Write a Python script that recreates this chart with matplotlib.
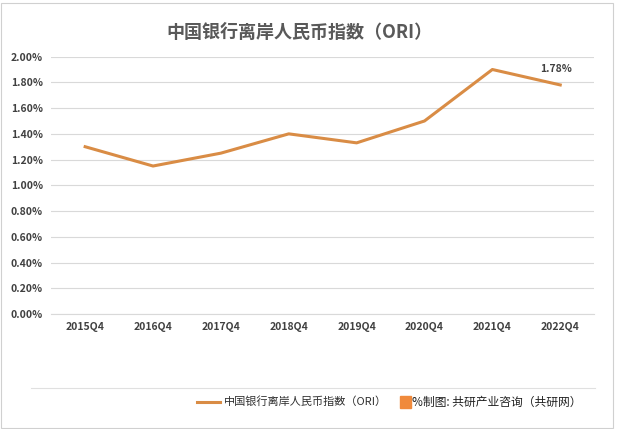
import matplotlib
matplotlib.use("Agg")
import matplotlib.pyplot as plt
from matplotlib import font_manager as fm
from matplotlib.ticker import FuncFormatter, MultipleLocator

cjk = [f.name for f in fm.fontManager.ttflist if "CJK" in f.name]
fam = (cjk[0] if cjk else "DejaVu Sans")
for pref in ["Noto Sans CJK SC", "Noto Sans CJK JP"]:
    if pref in cjk:
        fam = pref
        break
plt.rcParams["font.family"] = [fam, "DejaVu Sans"]

categories = ["2015Q4","2016Q4","2017Q4","2018Q4","2019Q4","2020Q4","2021Q4","2022Q4"]
values = [1.30, 1.15, 1.25, 1.40, 1.33, 1.50, 1.90, 1.78]
series_name = "中国银行离岸人民币指数（ORI）"
source = "%制图: 共研产业咨询（共研网）"

fig = plt.figure(figsize=(6.17, 4.29), dpi=100)
ax = fig.add_axes([0.083, 0.268, 0.88, 0.60])
x = range(len(categories))
c = "#D98C45"
ax.plot(x, values, color=c, lw=2.2)
ax.annotate(f"{values[-1]:.2f}%", (x[-1], values[-1]), xytext=(-3, 8),
            textcoords="offset points", ha="center", va="bottom",
            fontsize=7.5, fontweight="bold", color="#404040")
ax.set_xlim(-0.5, len(categories) - 0.5)
ax.set_ylim(0, 2.0)
ax.yaxis.set_major_locator(MultipleLocator(0.2))
ax.yaxis.set_major_formatter(FuncFormatter(lambda v, p: f"{v:.2f}%"))
ax.set_xticks(list(x))
ax.set_xticklabels(categories)
ax.grid(axis="y", color="#D9D9D9", lw=0.8)
for s in ["top", "right", "left"]:
    ax.spines[s].set_visible(False)
ax.spines["bottom"].set_color("#D9D9D9")
ax.tick_params(length=0, labelsize=7.5, labelcolor="#404040", pad=6)
for t in ax.get_xticklabels() + ax.get_yticklabels():
    t.set_fontweight("bold")
fig.text(0.485, 0.925, "中国银行离岸人民币指数（ORI）", ha="center", va="center",
         fontsize=13, fontweight="bold", color="#595959")
fig.add_artist(plt.Line2D([0.05, 0.965], [0.095, 0.095], color="#E0E0E0", lw=0.8))
fig.add_artist(plt.Line2D([0.32, 0.357], [0.063, 0.063], color=c, lw=2.2))
fig.text(0.363, 0.063, series_name, ha="left", va="center", fontsize=8, color="#303030")
fig.add_artist(plt.Rectangle((0.648, 0.048), 0.018, 0.03, color="#F08A3C"))
fig.text(0.668, 0.063, source, ha="left", va="center", fontsize=8.5, color="#202020")
fig.add_artist(plt.Rectangle((0.002, 0.002), 0.992, 0.992, fill=False, ec="#D0D0D0", lw=0.8))
fig.savefig("out.png")
